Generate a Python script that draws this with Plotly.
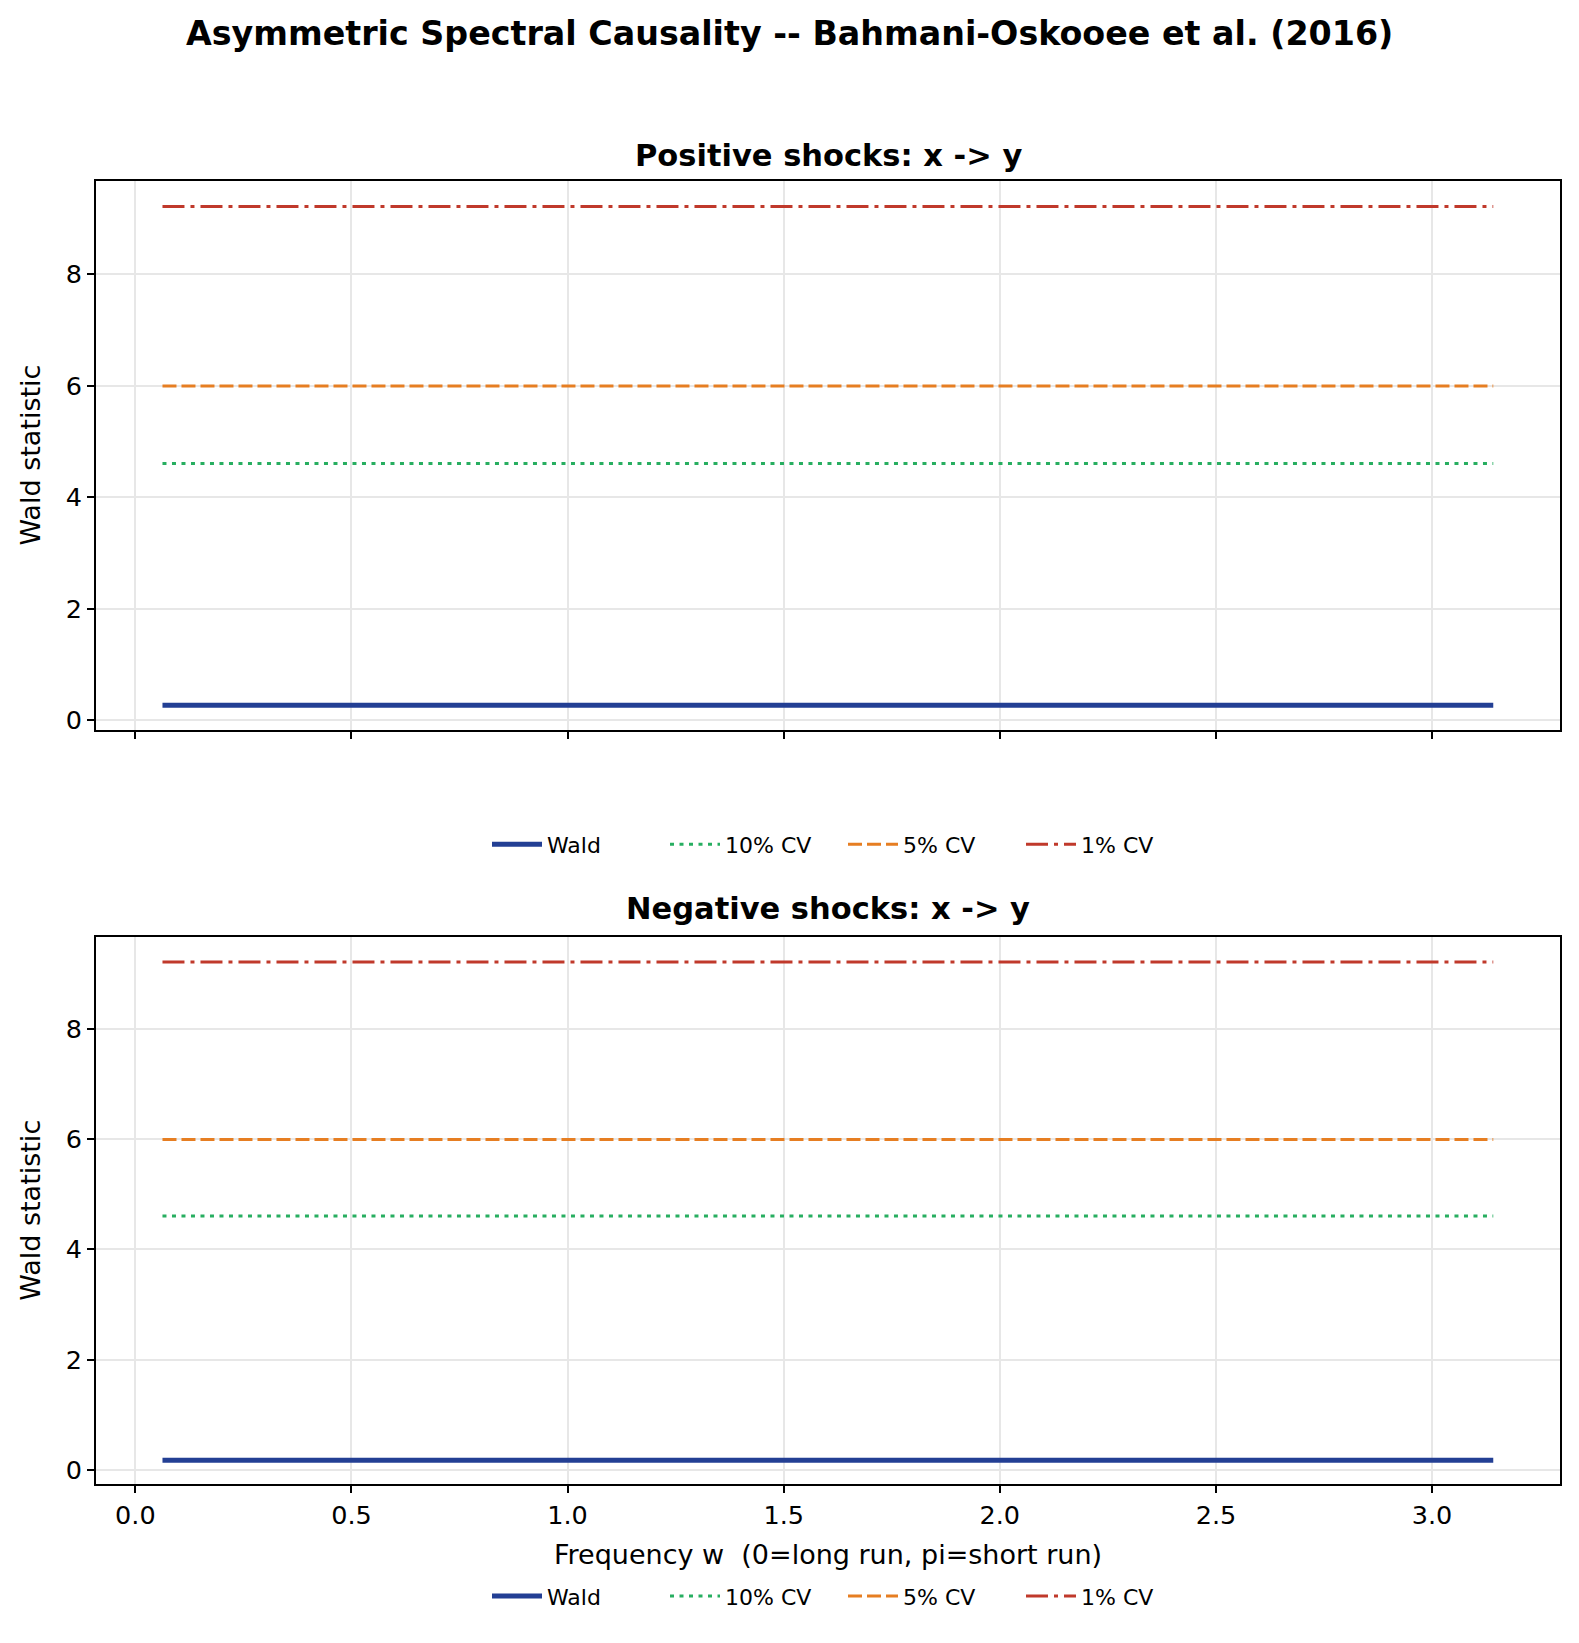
import plotly.graph_objects as go

# ---- data ----
freq = [0.0628, 3.1416]
wald_pos = [0.27, 0.27]
wald_neg = [0.18, 0.18]
cv10 = [4.605, 4.605]
cv5 = [5.991, 5.991]
cv1 = [9.210, 9.210]
series_names = ["Wald", "10% CV", "5% CV", "1% CV"]
x_ticks = [0.0, 0.5, 1.0, 1.5, 2.0, 2.5, 3.0]
y_ticks = [0, 2, 4, 6, 8]

W, H = 1579, 1643
FONT = "DejaVu Sans"
BLUE = "#233f94"
GREEN = "#27ae60"
ORANGE = "#e67e22"
RED = "#c0392b"

fig = go.Figure()

def add_panel(wald, xa, ya, leg):
    specs = [
        (wald, series_names[0], BLUE, 5, "solid"),
        (cv10, series_names[1], GREEN, 3, "4px,5.5px"),
        (cv5, series_names[2], ORANGE, 3, "14px,5px"),
        (cv1, series_names[3], RED, 3, "22px,6px,4px,6px"),
    ]
    for y, name, col, w, dash in specs:
        fig.add_trace(go.Scatter(
            x=freq, y=y, mode="lines", name=name,
            line=dict(color=col, width=w, dash=dash),
            xaxis=xa, yaxis=ya, legend=leg, showlegend=True,
        ))

add_panel(wald_pos, "x", "y", "legend")
add_panel(wald_neg, "x2", "y2", "legend2")

xdom = [96 / W, 1560 / W]
top_dom = [1 - 732 / H, 1 - 182 / H]
bot_dom = [1 - 1489 / H, 1 - 940 / H]

axis_common = dict(
    showline=True, linecolor="black", linewidth=1.6, mirror=True,
    ticks="outside", ticklen=7, tickwidth=1.6, tickcolor="black",
    showgrid=True, gridcolor="#e7e7e7", gridwidth=1.6,
    zeroline=False, tickfont=dict(family=FONT, size=25.5, color="black"),
)

legend_common = dict(orientation="h", xanchor="center", yanchor="middle",
                     font=dict(family=FONT, size=22, color="black"),
                     bgcolor="rgba(0,0,0,0)", itemwidth=50,
                     entrywidth=113, entrywidthmode="pixels")

fig.update_layout(
    width=W, height=H,
    margin=dict(l=0, r=0, t=0, b=0),
    plot_bgcolor="white", paper_bgcolor="white",
    font=dict(family=FONT, color="black"),
    xaxis=dict(domain=xdom, anchor="y", range=[-0.091, 3.296], tickvals=x_ticks,
               showticklabels=False, **axis_common),
    yaxis=dict(domain=top_dom, anchor="x", range=[-0.17, 9.66], tickvals=y_ticks,
               **axis_common),
    xaxis2=dict(domain=xdom, anchor="y2", range=[-0.091, 3.296], tickvals=x_ticks,
                ticktext=[f"{v:.1f}" for v in x_ticks], **axis_common),
    yaxis2=dict(domain=bot_dom, anchor="x2", range=[-0.26, 9.66], tickvals=y_ticks,
                **axis_common),
    legend=dict(x=843 / W, y=1 - 847 / H, **legend_common),
    legend2=dict(x=843 / W, y=1 - 1601 / H, **legend_common),
    showlegend=True,
)

annotations = [
    dict(text="<b>Asymmetric Spectral Causality -- Bahmani-Oskooee et al. (2016)</b>",
         x=0.5, y=1 - 34 / H, font=dict(size=33.3)),
    dict(text="<b>Positive shocks: x -> y</b>", x=828 / W, y=1 - 156 / H, font=dict(size=30.5)),
    dict(text="<b>Negative shocks: x -> y</b>", x=828 / W, y=1 - 911 / H, font=dict(size=30.5)),
    dict(text="Wald statistic", x=31 / W, y=(top_dom[0] + top_dom[1]) / 2, textangle=-90,
         font=dict(size=27)),
    dict(text="Wald statistic", x=31 / W, y=(bot_dom[0] + bot_dom[1]) / 2, textangle=-90,
         font=dict(size=27)),
    dict(text="Frequency w\u00a0 (0=long run, pi=short run)", x=828 / W, y=1 - 1559 / H,
         font=dict(size=27)),
]
for a in annotations:
    a.update(xref="paper", yref="paper", showarrow=False, xanchor="center", yanchor="middle")
    a["font"].update(family=FONT, color="black")
fig.update_layout(annotations=annotations)

fig.write_html("out.html")
